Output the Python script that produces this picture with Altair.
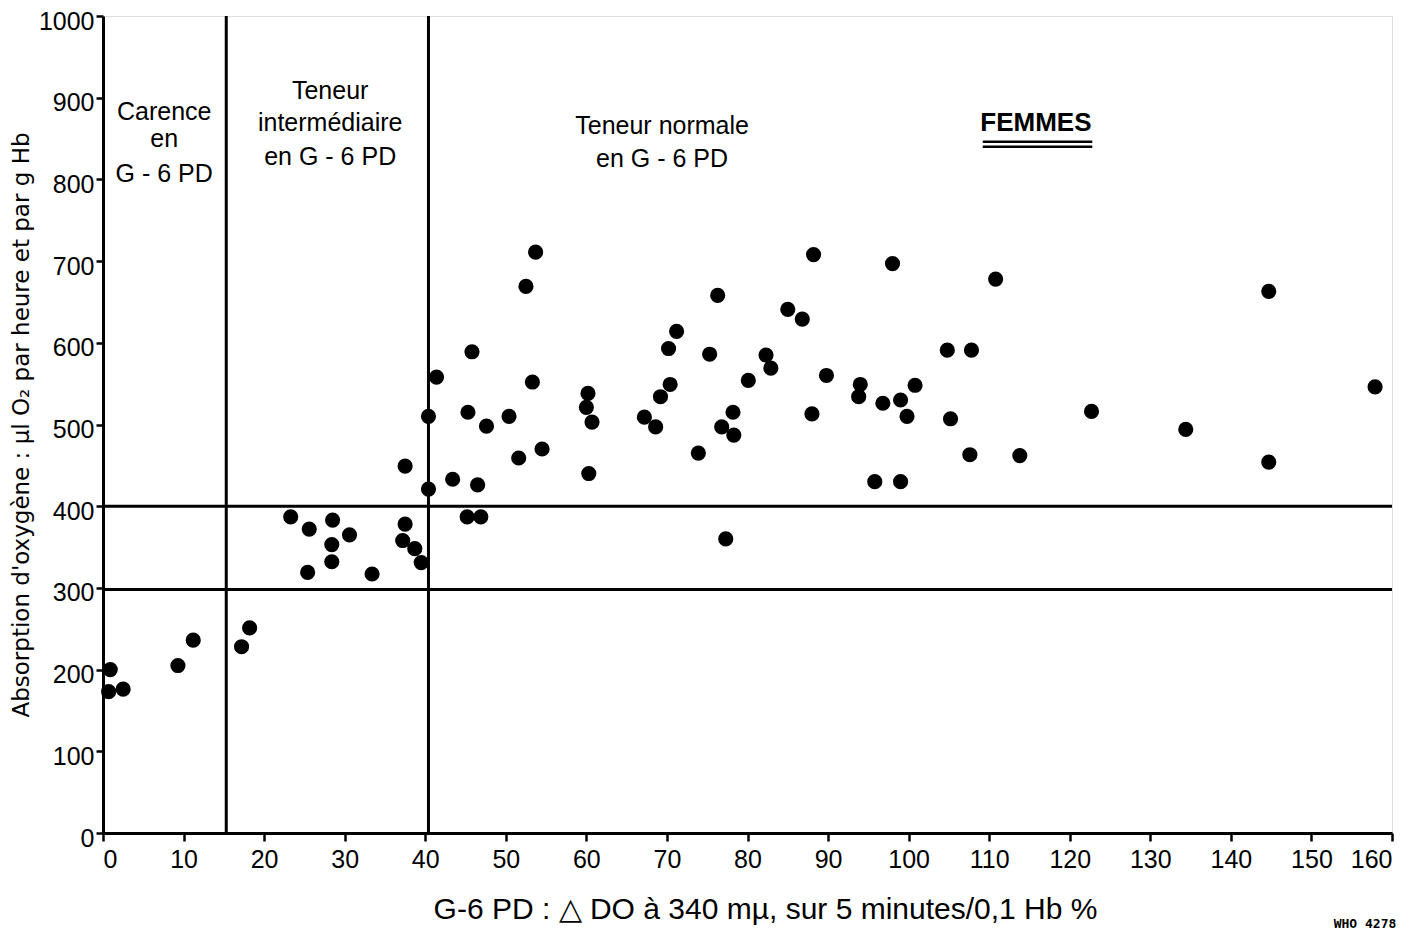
import altair as alt
import pandas as pd

# G-6 PD activity (x) vs oxygen absorption (y)
x_vals = [0.9, 0.7, 2.5, 9.3, 11.2,
          17.2, 18.2,
          23.3, 25.6, 28.5, 28.4, 30.6, 28.4, 25.4, 33.4, 37.5, 37.2, 38.7, 39.5, 37.5,
          40.4, 40.4, 41.4, 43.4, 45.2, 46.9, 46.5, 45.3, 45.8, 47.6, 50.4, 51.6,
          52.5, 53.7, 53.3, 54.5, 60.2, 60.0, 60.7, 60.3, 67.2, 68.6, 69.2, 70.2,
          70.4, 71.2, 73.9, 76.3, 75.3, 76.8, 77.3, 78.2, 78.3, 80.1, 82.3, 82.9,
          85.0, 86.8, 88.0, 88.2, 89.8, 94.0, 93.8, 95.8, 96.8, 99.0, 98.0, 99.0,
          99.8, 100.8, 104.8, 105.2, 107.6, 107.8, 110.8, 113.8, 122.7, 134.4,
          144.7, 144.7, 157.9]
y_vals = [200, 173, 176, 205, 236,
          228, 251,
          387, 372, 383, 353, 365, 332, 319, 317, 378, 358, 348, 331, 449,
          510, 421, 558, 433, 387, 387, 426, 515, 589, 498, 510, 459,
          669, 711, 552, 470, 538, 521, 503, 440, 509, 497, 534, 593,
          549, 614, 465, 658, 586, 497, 360, 515, 487, 554, 585, 569,
          641, 629, 513, 708, 560, 549, 534, 430, 526, 530, 697, 430,
          510, 548, 591, 507, 463, 591, 678, 462, 516, 494,
          663, 454, 546]

# Zone boundaries
v_lines = [15.3, 40.4]
h_lines = [400, 298]

# Zone labels
label_x = [7.6, 7.6, 7.6, 28.2, 28.2, 28.2, 69.4, 69.4]
label_y = [882, 849, 807, 908, 869, 828, 865, 825]
label_text = ["Carence", "en", "G - 6 PD",
              "Teneur", "intermédiaire", "en G - 6 PD",
              "Teneur normale", "en G - 6 PD"]

title_x = [115.8]
title_y = [869]
title_text = ["FEMMES"]
underline_x1 = [109.2, 109.2]
underline_x2 = [122.8, 122.8]
underline_y = [846, 840]

FONT = "Liberation Sans, Arial, sans-serif"
FONT_WIDE = "DejaVu Sans, Liberation Sans, sans-serif"

pts = pd.DataFrame({"x": x_vals, "y": y_vals})
vdf = pd.DataFrame({"x": v_lines})
hdf = pd.DataFrame({"y": h_lines})
ldf = pd.DataFrame({"x": label_x, "y": label_y, "t": label_text})
tdf = pd.DataFrame({"x": title_x, "y": title_y, "t": title_text})
udf = pd.DataFrame({"x": underline_x1, "x2": underline_x2, "y": underline_y})

xscale = alt.Scale(domain=[0, 160], nice=False, zero=False)
yscale = alt.Scale(domain=[0, 1000], nice=False)

xaxis = alt.Axis(
    title="G-6 PD :  △ DO à 340 mµ, sur 5 minutes/0,1 Hb %",
    values=list(range(0, 161, 10)), grid=False, format="d",
    labelFont=FONT, labelFontSize=25, labelColor="black", labelPadding=6,
    titleFont=FONT, titleFontSize=30, titleFontWeight="normal", titleColor="black",
    titlePadding=22, titleX=662, titleAlign="center",
    domainColor="black", domainWidth=3, tickColor="black", tickWidth=2.5, tickSize=8,
)
yaxis = alt.Axis(
    title="Absorption d'oxygène : µl O₂ par heure et par g Hb",
    values=list(range(0, 1001, 100)), grid=False, format="d",
    labelFont=FONT, labelFontSize=25, labelColor="black", labelPadding=2, labelOffset=5,
    titleFont=FONT_WIDE, titleFontSize=23, titleFontWeight="normal", titleColor="black",
    titlePadding=5,
    domainColor="black", domainWidth=3, tickColor="black", tickWidth=2.5, tickSize=7,
)

points = alt.Chart(pts).mark_circle(size=230, color="black", opacity=1).encode(
    x=alt.X("x:Q", scale=xscale, axis=xaxis),
    y=alt.Y("y:Q", scale=yscale, axis=yaxis),
)

vrules = alt.Chart(vdf).mark_rule(color="black", strokeWidth=3).encode(
    x=alt.X("x:Q", scale=xscale)
)
hrules = alt.Chart(hdf).mark_rule(color="black", strokeWidth=3).encode(
    y=alt.Y("y:Q", scale=yscale)
)

labels = alt.Chart(ldf).mark_text(
    font=FONT, fontSize=25, color="black", align="center", baseline="middle"
).encode(x=alt.X("x:Q", scale=xscale), y=alt.Y("y:Q", scale=yscale), text="t:N")

title_mark = alt.Chart(tdf).mark_text(
    font=FONT, fontSize=26, fontWeight="bold", color="black", align="center", baseline="middle"
).encode(x=alt.X("x:Q", scale=xscale), y=alt.Y("y:Q", scale=yscale), text="t:N")

underline = alt.Chart(udf).mark_rule(color="black", strokeWidth=2.5).encode(
    x=alt.X("x:Q", scale=xscale), x2="x2:Q", y=alt.Y("y:Q", scale=yscale)
)

who = alt.Chart(pd.DataFrame({"t": ["WHO 4278"]})).mark_text(
    font="DejaVu Sans Mono", fontSize=13, fontWeight="bold", color="black",
    align="center", baseline="middle"
).encode(x=alt.value(1262), y=alt.value(908), text="t:N")

chart = alt.layer(vrules, hrules, underline, points, labels, title_mark, who).properties(
    width=1289, height=817,
    padding={"left": 95, "top": 8, "right": 25, "bottom": 100},
    autosize=alt.AutoSizeParams(type="none"),
).configure_view(stroke="black", strokeWidth=3).configure(background="white")

chart.save("out.html", embed_options={"renderer": "svg", "actions": False})
